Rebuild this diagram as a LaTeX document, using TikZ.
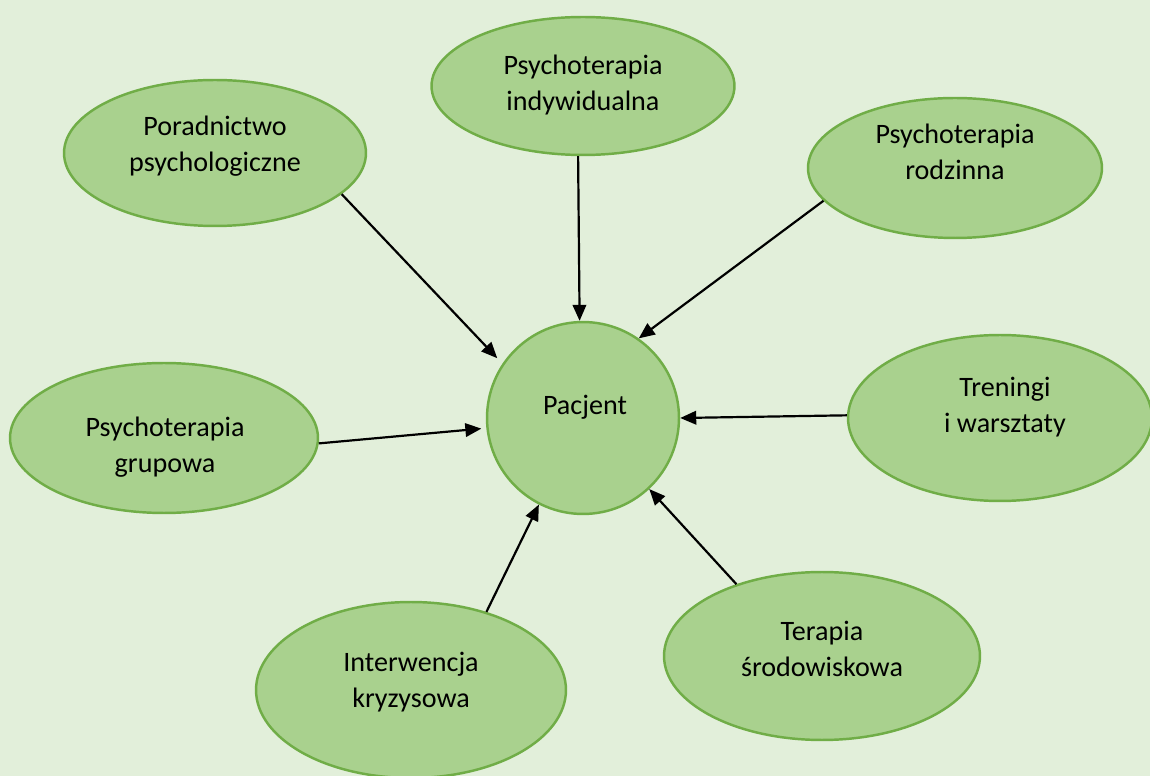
\documentclass[tikz,border=0pt]{standalone}
\usepackage{fontspec}
\setmainfont{Carlito}
\usetikzlibrary{shapes.geometric,arrows.meta}
\definecolor{bgc}{HTML}{E2EFDA}
\definecolor{fillc}{HTML}{A9D18E}
\definecolor{linec}{HTML}{70AD47}
\begin{document}
\begin{tikzpicture}[x=0.02cm,y=-0.02cm,
  oval/.style={ellipse, draw=linec, fill=fillc, line width=1.4pt, inner sep=0pt},
  txt/.style={align=center, font=\fontsize{16pt}{20.5pt}\selectfont, text=black, inner sep=0pt},
  arr/.style={-{Triangle[length=0.32cm,width=0.27cm]}, line width=1.25pt, black}]
\useasboundingbox (0,0) rectangle (1150,776);
\clip (0,0) rectangle (1150,776);
\fill[bgc] (0,0) rectangle (1150,776);

\node[oval, minimum width=6.04cm, minimum height=2.92cm] (A) at (215,153) {};
\node[oval, minimum width=6.06cm, minimum height=2.76cm] (B) at (583,86) {};
\node[oval, minimum width=5.88cm, minimum height=2.80cm] (C) at (955,168) {};
\node[oval, minimum width=6.08cm, minimum height=3.32cm] (D) at (1000,418) {};
\node[oval, minimum width=6.16cm, minimum height=3.00cm] (E) at (164,438) {};
\node[oval, minimum width=6.20cm, minimum height=3.52cm] (F) at (411,690) {};
\node[oval, minimum width=6.32cm, minimum height=3.36cm] (G) at (822,656) {};
\node[circle, draw=linec, fill=fillc, line width=1.4pt, inner sep=0pt, minimum size=3.84cm] (P) at (583,418) {};

\node[txt] (tA) at (215,146) {Poradnictwo\\psychologiczne};
\node[txt] (tB) at (583,85) {Psychoterapia\\indywidualna};
\node[txt] (tC) at (955,152) {Psychoterapia\\rodzinna};
\node[txt] (tD) at (1005,407) {Treningi\\i warsztaty};
\node[txt] (tE) at (165,447) {Psychoterapia\\grupowa};
\node[txt] (tF) at (411,682) {Interwencja\\kryzysowa};
\node[txt] (tG) at (822,649) {Terapia\\środowiskowa};
\node[txt] (tP) at (585,407) {Pacjent};

\draw[arr, shorten >=0.15cm] (A.-18.4) -- (P.146.6);
\draw[arr] (B.-94.8) -- (P.92.4);
\draw[arr] (C.-166.3) -- (P.55);
\draw[arr] (D.179.2) -- (P.0.6);
\draw[arr, shorten >=0.1cm] (E.-2.6) -- (P.-174.9);
\draw[arr] (F.46.5) -- (P.-117.4);
\draw[arr] (G.140.5) -- (P.-47.1);
\end{tikzpicture}
\end{document}
